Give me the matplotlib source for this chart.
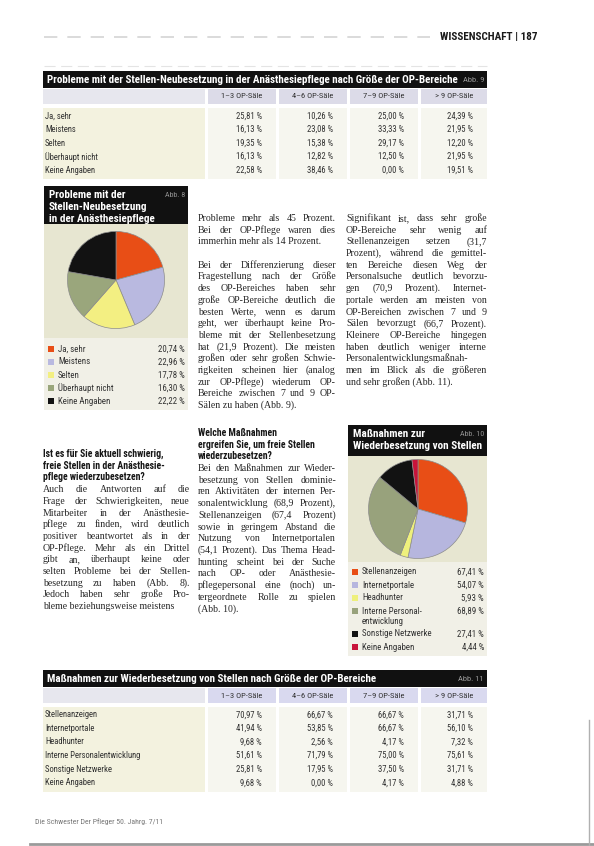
import matplotlib
matplotlib.use('Agg')
import matplotlib.pyplot as plt
from matplotlib import font_manager as fm
from matplotlib.patches import Rectangle


def pick(names, default):
    for n in names:
        try:
            fm.findfont(fm.FontProperties(family=n), fallback_to_default=False)
            return n
        except Exception:
            pass
    return default


SANS = pick(['Liberation Sans Narrow', 'Roboto Condensed', 'Open Sans Condensed', 'Liberation Sans'], 'DejaVu Sans')
SERIF = pick(['Liberation Serif', 'DejaVu Serif'], 'DejaVu Serif')

# ---------------- data ----------------
section_name = 'WISSENSCHAFT'
page_number = '187'
footer_text = 'Die Schwester Der Pfleger 50. Jahrg. 7/11'

size_groups = ['1–3 OP-Säle', '4–6 OP-Säle', '7–9 OP-Säle', '> 9 OP-Säle']

abb9_title = 'Probleme mit der Stellen-Neubesetzung in der Anästhesiepflege nach Größe der OP-Bereiche'
abb9_tag = 'Abb. 9'
problem_answers = ['Ja, sehr', 'Meistens', 'Selten', 'Überhaupt nicht', 'Keine Angaben']
abb9_op_1_3 = [25.81, 16.13, 19.35, 16.13, 22.58]
abb9_op_4_6 = [10.26, 23.08, 15.38, 12.82, 38.46]
abb9_op_7_9 = [25.00, 33.33, 29.17, 12.50, 0.00]
abb9_op_gt9 = [24.39, 21.95, 12.20, 21.95, 19.51]

abb8_title = ['Probleme mit der', 'Stellen-Neubesetzung', 'in der Anästhesiepflege']
abb8_tag = 'Abb. 8'
abb8_values = [20.74, 22.96, 17.78, 16.30, 22.22]
abb8_colors = ['#e84e16', '#b9b9e0', '#f3ef82', '#9aa67c', '#121212']

abb10_title = ['Maßnahmen zur', 'Wiederbesetzung von Stellen']
abb10_tag = 'Abb. 10'
measure_labels = ['Stellenanzeigen', 'Internetportale', 'Headhunter',
                  'Interne Personal-\nentwicklung', 'Sonstige Netzwerke', 'Keine Angaben']
abb10_values = [67.41, 54.07, 5.93, 68.89, 27.41, 4.44]
abb10_colors = ['#e84e16', '#b6b6de', '#eef07c', '#98a27c', '#121212', '#c8143a']

abb11_title = 'Maßnahmen zur Wiederbesetzung von Stellen nach Größe der OP-Bereiche'
abb11_tag = 'Abb. 11'
measure_rows = ['Stellenanzeigen', 'Internetportale', 'Headhunter',
                'Interne Personalentwicklung', 'Sonstige Netzwerke', 'Keine Angaben']
abb11_op_1_3 = [70.97, 41.94, 9.68, 51.61, 25.81, 9.68]
abb11_op_4_6 = [66.67, 53.85, 2.56, 71.79, 17.95, 0.00]
abb11_op_7_9 = [66.67, 66.67, 4.17, 75.00, 37.50, 4.17]
abb11_op_gt9 = [31.71, 56.10, 7.32, 75.61, 31.71, 4.88]

text_left_head = ['Ist es für Sie aktuell schwierig,',
                  'freie Stellen in der Anästhesie-',
                  'pflege wiederzubesetzen?']
text_left_body = ['Auch die Antworten auf die',
                  'Frage der Schwierigkeiten, neue',
                  'Mitarbeiter in der Anästhesie-',
                  'pflege zu finden, wird deutlich',
                  'positiver beantwortet als in der',
                  'OP-Pflege. Mehr als ein Drittel',
                  'gibt an, überhaupt keine oder',
                  'selten Probleme bei der Stellen-',
                  'besetzung zu haben (Abb. 8).',
                  'Jedoch haben sehr große Pro-',
                  'bleme beziehungsweise meistens']
text_mid_top = ['Probleme mehr als 45 Prozent.',
                'Bei der OP-Pflege waren dies',
                'immerhin mehr als 14 Prozent.',
                '',
                'Bei der Differenzierung dieser',
                'Fragestellung nach der Größe',
                'des OP-Bereiches haben sehr',
                'große OP-Bereiche deutlich die',
                'besten Werte, wenn es darum',
                'geht, wer überhaupt keine Pro-',
                'bleme mit der Stellenbesetzung',
                'hat (21,9 Prozent). Die meisten',
                'großen oder sehr großen Schwie-',
                'rigkeiten scheinen hier (analog',
                'zur OP-Pflege) wiederum OP-',
                'Bereiche zwischen 7 und 9 OP-',
                'Sälen zu haben (Abb. 9).']
text_mid_head = ['Welche Maßnahmen',
                 'ergreifen Sie, um freie Stellen',
                 'wiederzubesetzen?']
text_mid_body = ['Bei den Maßnahmen zur Wieder-',
                 'besetzung von Stellen dominie-',
                 'ren Aktivitäten der internen Per-',
                 'sonalentwicklung (68,9 Prozent),',
                 'Stellenanzeigen (67,4 Prozent)',
                 'sowie in geringem Abstand die',
                 'Nutzung von Internetportalen',
                 '(54,1 Prozent). Das Thema Head-',
                 'hunting scheint bei der Suche',
                 'nach OP- oder Anästhesie-',
                 'pflegepersonal eine (noch) un-',
                 'tergeordnete Rolle zu spielen',
                 '(Abb. 10).']
text_right = ['Signifikant ist, dass sehr große',
              'OP-Bereiche sehr wenig auf',
              'Stellenanzeigen setzen (31,7',
              'Prozent), während die gemittel-',
              'ten Bereiche diesen Weg der',
              'Personalsuche deutlich bevorzu-',
              'gen (70,9 Prozent). Internet-',
              'portale werden am meisten von',
              'OP-Bereichen zwischen 7 und 9',
              'Sälen bevorzugt (66,7 Prozent).',
              'Kleinere OP-Bereiche hingegen',
              'haben deutlich weniger interne',
              'Personalentwicklungsmaßnah-',
              'men im Blick als die größeren',
              'und sehr großen (Abb. 11).']

# ---------------- figure ----------------
W, H = 594, 846
fig = plt.figure(figsize=(W / 100, H / 100), dpi=100)
fig.patch.set_facecolor('white')
ax = fig.add_axes([0, 0, 1, 1])
ax.set_xlim(0, W)
ax.set_ylim(H, 0)
ax.axis('off')
renderer = fig.canvas.get_renderer()


def pct(v):
    return f'{v:.2f}'.replace('.', ',') + ' %'


def twidth(s, size, family, weight='normal'):
    t = ax.text(0, 0, s, fontsize=size, family=family, weight=weight)
    w = t.get_window_extent(renderer).width
    t.remove()
    return w


def paragraph(lines, x0, x1, y0, lh, size, family, weight='normal',
              color='#262626', justify=True):
    y = y0
    for i, line in enumerate(lines):
        if line == '':
            y += lh
            continue
        last = (i == len(lines) - 1) or lines[i + 1] == ''
        words = line.split(' ')
        fs = size
        natural = twidth(line, fs, family, weight)
        if natural > (x1 - x0):
            fs = size * (x1 - x0) / natural * 0.99
        if (not justify) or last or len(words) == 1:
            ax.text(x0, y, line, fontsize=fs, family=family, weight=weight,
                    color=color, ha='left', va='baseline')
        else:
            ws = [twidth(w, fs, family, weight) for w in words]
            gap = (x1 - x0 - sum(ws)) / (len(words) - 1)
            x = x0
            for w, wd in zip(words, ws):
                ax.text(x, y, w, fontsize=fs, family=family, weight=weight,
                        color=color, ha='left', va='baseline')
                x += wd + gap
        y += lh
    return y


def rect(x0, y0, x1, y1, color, **kw):
    ax.add_patch(Rectangle((x0, y0), x1 - x0, y1 - y0, facecolor=color,
                           edgecolor='none', **kw))


# ---------------- page header ----------------
ax.plot([44, 430], [37, 37], color='#d4d4d4', lw=1.2, ls=(0, (8, 6)))
ax.text(440, 37, f'{section_name} | {page_number}', fontsize=8.0, family=SANS,
        weight='bold', color='#1a1a1a', ha='left', va='center')
ax.plot([44, 487], [66, 66], color='#e4e4e4', lw=0.8, ls=(0, (10, 5)))

TL, TR = 43, 487
col_bounds = [(208, 276), (279, 347), (350, 418), (421, 487)]


def draw_table(ytop, title, tag, rows, cols, row_h, header_h=15, bar_h=17,
               head_col='#dcdbe8'):
    rect(TL, ytop, TR, ytop + bar_h, '#111111')
    ax.text(TL + 4, ytop + bar_h / 2 + 0.5, title, fontsize=7.9, family=SANS,
            weight='bold', color='white', ha='left', va='center')
    ax.text(TR - 3, ytop + bar_h / 2 + 0.5, tag, fontsize=6.0, family=SANS,
            color='#9a9a9a', ha='right', va='center')
    hy0 = ytop + bar_h + 1
    hy1 = hy0 + header_h
    rect(TL, hy0, 205, hy1, '#e7e7ee')
    for (c0, c1), g in zip(col_bounds, size_groups):
        rect(c0, hy0, c1, hy1, head_col)
        ax.text((c0 + c1) / 2, (hy0 + hy1) / 2, g, fontsize=6.1, family=SANS,
                color='#333333', ha='center', va='center')
    y = hy1 + 5
    nrows = len(rows)
    rect(TL, y - 1, 205, y + nrows * row_h + 2, '#f3f2df')
    for (c0, c1) in col_bounds:
        rect(c0, y - 1, c1, y + nrows * row_h + 2, '#f6f6ef')
    for i, label in enumerate(rows):
        cy = y + (i + 0.5) * row_h
        ax.text(TL + 2, cy, label, fontsize=6.2, family=SANS, color='#333333',
                ha='left', va='center')
        for (c0, c1), colvals in zip(col_bounds, cols):
            ax.text(c1 - 14, cy, pct(colvals[i]), fontsize=6.2, family=SANS,
                    color='#333333', ha='right', va='center')


draw_table(71, abb9_title, abb9_tag, problem_answers,
           [abb9_op_1_3, abb9_op_4_6, abb9_op_7_9, abb9_op_gt9], row_h=13.6)
draw_table(670, abb11_title, abb11_tag, measure_rows,
           [abb11_op_1_3, abb11_op_4_6, abb11_op_7_9, abb11_op_gt9], row_h=13.6,
           head_col='#d9d9ef')


# ---------------- pie boxes ----------------
def pie_box(x0, x1, ty0, ty1, py1, ly1, title, tag, values, colors, labels,
            cx, cy, r, legend_y, legend_dy):
    rect(x0, ty0, x1, ty1, '#111111')
    for k, tl in enumerate(title):
        ax.text(x0 + 5, ty0 + 9 + k * 12.2, tl, fontsize=8.0, family=SANS,
                weight='bold', color='white', ha='left', va='center')
    ax.text(x1 - 3, ty0 + 9, tag, fontsize=5.8, family=SANS, color='#8f8f8f',
            ha='right', va='center')
    rect(x0, ty1, x1, py1, '#e7e6d1')
    rect(x0, py1, x1, ly1, '#f1f0e7')
    pax = fig.add_axes([(cx - r) / W, 1 - (cy + r) / H, 2 * r / W, 2 * r / H])
    pax.pie(values, colors=colors, startangle=90, counterclock=False,
            wedgeprops=dict(edgecolor='#8c8c8c', linewidth=0.5))
    pax.set_xlim(-1.03, 1.03)
    pax.set_ylim(-1.03, 1.03)
    pax.set_aspect('equal')
    pax.axis('off')
    y = legend_y
    for lab, v, c in zip(labels, values, colors):
        rect(x0 + 4, y - 3, x0 + 10, y + 3, c)
        ax.text(x0 + 14, y, lab.split('\n')[0], fontsize=6.4, family=SANS,
                color='#333333', ha='left', va='center')
        ax.text(x1 - 3, y, pct(v), fontsize=6.4, family=SANS, color='#333333',
                ha='right', va='center')
        if '\n' in lab:
            y += 10
            ax.text(x0 + 14, y, lab.split('\n')[1], fontsize=6.4, family=SANS,
                    color='#333333', ha='left', va='center')
        y += legend_dy


pie_box(44, 188, 186, 224, 338, 410, abb8_title, abb8_tag, abb8_values,
        abb8_colors, problem_answers, 116, 280, 50, 349, 13)
pie_box(348, 487, 425, 456, 562, 656, abb10_title, abb10_tag, abb10_values,
        abb10_colors, measure_labels, 418, 509, 51, 572, 13)

# ---------------- article text ----------------
LH = 11.7
y = paragraph(text_left_head, 43, 190, 457, LH, 7.0, SANS, weight='bold',
              color='#161616', justify=False)
paragraph(text_left_body, 43, 190, y, LH, 7.1, SERIF)

paragraph(text_mid_top, 198, 336, 221, LH, 7.1, SERIF)
y = paragraph(text_mid_head, 198, 336, 436, LH, 7.0, SANS, weight='bold',
              color='#161616', justify=False)
paragraph(text_mid_body, 198, 336, y, LH, 7.1, SERIF)

paragraph(text_right, 346, 487, 221, LH, 7.1, SERIF)

# ---------------- footer / scan edges ----------------
ax.text(35, 822, footer_text, fontsize=5.6, family=SANS, color='#777777',
        ha='left', va='center')
ax.plot([30, 594], [844, 844], color='#9a9a9a', lw=2.0)
ax.plot([589, 589], [720, 846], color='#b0b0b0', lw=1.0)

fig.savefig('out.png', dpi=100, facecolor='white')
